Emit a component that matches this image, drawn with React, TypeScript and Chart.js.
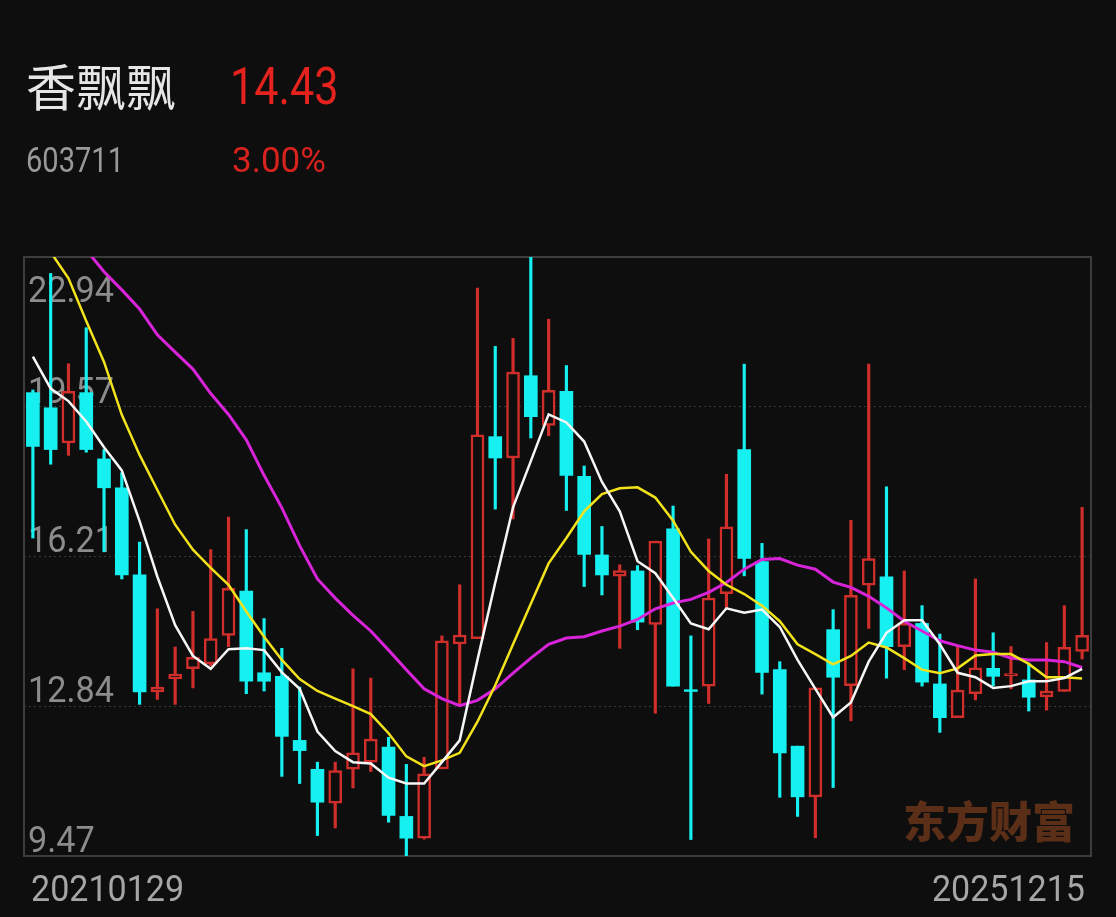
import React, { useEffect, useRef } from "react";
import { Chart, registerables } from "chart.js";

Chart.register(...registerables);

// ---- data (monthly candles, 2021-01 .. 2025-12) ----
const months = [
  "2021-01", "2021-02", "2021-03", "2021-04", "2021-05", "2021-06", "2021-07", "2021-08", "2021-09", "2021-10", "2021-11", "2021-12",
  "2022-01", "2022-02", "2022-03", "2022-04", "2022-05", "2022-06", "2022-07", "2022-08", "2022-09", "2022-10", "2022-11", "2022-12",
  "2023-01", "2023-02", "2023-03", "2023-04", "2023-05", "2023-06", "2023-07", "2023-08", "2023-09", "2023-10", "2023-11", "2023-12",
  "2024-01", "2024-02", "2024-03", "2024-04", "2024-05", "2024-06", "2024-07", "2024-08", "2024-09", "2024-10", "2024-11", "2024-12",
  "2025-01", "2025-02", "2025-03", "2025-04", "2025-05", "2025-06", "2025-07", "2025-08", "2025-09", "2025-10", "2025-11", "2025-12",
];

const openP = [
  19.89, 19.55, 18.76, 19.89, 18.40, 17.75, 15.79, 13.16, 13.45, 13.68, 13.79, 14.43,
  15.43, 13.59, 13.51, 12.07, 11.42, 10.66, 11.42, 11.58, 11.92, 10.36, 9.87, 11.43,
  14.24, 14.36, 18.90, 18.42, 20.27, 19.15, 19.92, 18.01, 16.24, 15.76, 15.88, 14.68,
  16.83, 13.21, 13.29, 15.37, 18.61, 16.09, 13.66, 11.94, 10.80, 14.56, 13.30, 15.56,
  15.75, 14.18, 14.70, 13.34, 12.58, 13.12, 13.69, 13.52, 13.43, 13.05, 13.17, 14.07,
];
const highP = [
  19.95, 22.57, 20.54, 21.35, 18.61, 18.09, 16.53, 15.03, 14.17, 14.97, 16.36, 17.09,
  16.81, 14.81, 14.14, 13.27, 11.58, 11.58, 13.68, 13.47, 12.14, 11.53, 11.69, 14.42,
  15.57, 22.24, 20.93, 21.11, 22.94, 21.54, 20.50, 18.24, 16.88, 16.02, 16.00, 16.55,
  17.34, 14.42, 16.60, 18.05, 20.53, 16.50, 13.84, 11.94, 13.25, 15.01, 17.02, 20.53,
  17.77, 15.88, 15.10, 14.46, 14.18, 15.70, 14.49, 14.18, 13.81, 14.27, 15.10, 17.31,
];
const lowP = [
  16.62, 18.28, 18.48, 18.55, 16.31, 15.70, 12.88, 12.99, 12.88, 13.25, 13.75, 14.18,
  13.12, 13.18, 11.26, 11.10, 9.93, 10.10, 11.00, 11.37, 10.23, 9.47, 9.85, 11.43,
  12.88, 14.36, 17.27, 17.05, 18.87, 18.92, 17.24, 15.53, 15.34, 14.14, 14.56, 12.68,
  13.29, 9.84, 12.90, 15.05, 15.77, 13.11, 10.79, 10.36, 9.88, 11.01, 12.51, 14.59,
  13.47, 13.66, 13.29, 12.25, 12.58, 12.98, 13.30, 13.23, 12.73, 12.75, 13.17, 13.90,
];
const closeP = [
  18.68, 18.61, 19.92, 18.61, 17.75, 15.79, 13.16, 13.27, 13.56, 13.94, 14.36, 15.49,
  13.40, 13.40, 12.16, 11.84, 10.68, 11.39, 11.79, 12.10, 10.38, 9.87, 11.32, 14.31,
  14.44, 18.94, 18.42, 20.35, 19.35, 19.94, 18.03, 16.25, 15.79, 15.89, 14.73, 16.55,
  13.29, 13.17, 15.27, 16.87, 16.16, 13.60, 11.79, 10.80, 13.25, 13.49, 15.33, 16.16,
  14.18, 14.70, 13.38, 12.58, 13.20, 13.70, 13.51, 13.57, 13.04, 13.18, 14.16, 14.43,
];

const ma5 = [
  20.70, 19.98, 19.70, 19.24, 18.66, 18.14, 17.00, 15.75, 14.66, 13.97, 13.68, 14.12,
  14.14, 14.10, 13.60, 13.23, 12.27, 11.83, 11.58, 11.55, 11.23, 11.10, 11.10, 11.58,
  12.07, 13.88, 15.62, 17.31, 18.35, 19.40, 19.22, 18.79, 17.88, 17.22, 16.10, 15.83,
  15.27, 14.70, 14.57, 15.04, 14.94, 15.01, 14.62, 13.88, 13.23, 12.59, 12.92, 13.84,
  14.49, 14.77, 14.77, 14.23, 13.59, 13.49, 13.25, 13.29, 13.40, 13.40, 13.47, 13.68,
];
const ma10 = [
  23.60, 23.05, 22.46, 21.50, 20.58, 19.39, 18.49, 17.70, 16.92, 16.36, 15.95, 15.57,
  14.97, 14.40, 13.88, 13.45, 13.18, 13.01, 12.84, 12.66, 12.23, 11.71, 11.49, 11.62,
  11.79, 12.49, 13.31, 14.23, 15.14, 16.05, 16.62, 17.22, 17.61, 17.74, 17.76, 17.53,
  17.01, 16.31, 15.88, 15.57, 15.36, 15.10, 14.75, 14.23, 14.01, 13.78, 13.97, 14.27,
  14.16, 13.92, 13.66, 13.58, 13.69, 13.98, 14.01, 14.01, 13.79, 13.49, 13.49, 13.46,
];
const ma20 = [
  24.60, 24.10, 23.60, 23.10, 22.61, 22.20, 21.77, 21.19, 20.80, 20.42, 19.87, 19.40,
  18.83, 18.03, 17.30, 16.45, 15.70, 15.27, 14.88, 14.53, 14.10, 13.66, 13.23, 13.01,
  12.85, 12.97, 13.23, 13.58, 13.92, 14.23, 14.37, 14.40, 14.53, 14.64, 14.79, 15.03,
  15.16, 15.24, 15.40, 15.62, 15.92, 16.14, 16.16, 16.01, 15.92, 15.63, 15.51, 15.31,
  15.05, 14.75, 14.53, 14.31, 14.20, 14.10, 14.05, 13.92, 13.88, 13.88, 13.84, 13.71,
];

const yTickValues = [22.94, 19.57, 16.21, 12.84, 9.47];
const yTickLabels = ["22.94", "19.57", "16.21", "12.84", "9.47"];
const xTickLabels = ["20210129", "20251215"];

const stockName = "香飘飘";
const stockCode = "603711";
const lastPrice = "14.43";
const changePct = "3.00%";
const watermark = "东方财富";

const BG = "#0e0e0e";
const UP = "#d02e2a";
const DOWN = "#16f0f0";

function drawText(
  ctx: CanvasRenderingContext2D,
  s: string,
  x: number,
  y: number,
  font: string,
  color: string,
  align: CanvasTextAlign,
  sx = 1
) {
  ctx.save();
  ctx.font = font;
  ctx.fillStyle = color;
  ctx.textAlign = align;
  ctx.textBaseline = "alphabetic";
  ctx.translate(x, y);
  ctx.scale(sx, 1);
  ctx.fillText(s, 0, 0);
  ctx.restore();
}

export default function App() {
  const ref = useRef<HTMLCanvasElement>(null);

  useEffect(() => {
    document.body.style.margin = "0";
    document.body.style.background = BG;
    const canvas = ref.current;
    if (!canvas) return;
    const isUp = closeP.map((c, i) => c >= openP[i]);

    const overlay = {
      id: "overlay",
      beforeDatasetsDraw(chart: any) {
        const { ctx, chartArea: a, scales } = chart;
        // watermark
        drawText(ctx, watermark, 903, 838, '900 43px "Noto Sans CJK SC"', "#5a2e17", "left");
        // frame
        ctx.save();
        ctx.strokeStyle = "#3c3c3c";
        ctx.lineWidth = 2;
        ctx.strokeRect(a.left, a.top, a.right - a.left, a.bottom - a.top);
        ctx.restore();
        // y labels
        yTickValues.forEach((v, i) => {
          const y = scales.y.getPixelForValue(v);
          const by = i === 0 ? y + 45 : y - 4;
          drawText(ctx, yTickLabels[i], a.left + 4, by, "36px Roboto", "#8c8c8c", "left", 0.95);
        });
        // x labels
        drawText(ctx, xTickLabels[0], 31, 901, "37px Roboto", "#a6a6a6", "left", 0.92);
        drawText(ctx, xTickLabels[1], 1085, 901, "37px Roboto", "#a6a6a6", "right", 0.92);
      },
    };

    const chart = new Chart(canvas, {
      type: "bar",
      data: {
        labels: months,
        datasets: [
          {
            type: "line",
            label: "MA5",
            data: ma5,
            borderColor: "#f6f6f6",
            borderWidth: 2.5,
            pointRadius: 0,
            tension: 0,
            order: 0,
          } as any,
          {
            type: "line",
            label: "MA10",
            data: ma10,
            borderColor: "#f2e21c",
            borderWidth: 2.5,
            pointRadius: 0,
            tension: 0,
            order: 0,
          } as any,
          {
            type: "line",
            label: "MA20",
            data: ma20,
            borderColor: "#d824d8",
            borderWidth: 3,
            pointRadius: 0,
            tension: 0,
            order: 0,
          } as any,
          {
            type: "bar",
            label: "body",
            data: openP.map((o, i) => [o, closeP[i]]),
            backgroundColor: isUp.map((u) => (u ? BG : DOWN)),
            borderColor: isUp.map((u) => (u ? UP : DOWN)),
            borderWidth: isUp.map((u) => (u ? 2.5 : 0)),
            borderSkipped: false,
            barThickness: 13,
            grouped: false,
            order: 1,
          } as any,
          {
            type: "bar",
            label: "wick",
            data: lowP.map((l, i) => [l, highP[i]]),
            backgroundColor: isUp.map((u) => (u ? UP : DOWN)),
            borderWidth: 0,
            barThickness: 2.5,
            grouped: false,
            order: 2,
          } as any,
        ],
      },
      options: {
        responsive: false,
        animation: false,
        devicePixelRatio: 1,
        events: [],
        layout: { padding: { left: 24, right: 25, top: 257, bottom: 61 } },
        plugins: { legend: { display: false }, tooltip: { enabled: false } },
        scales: {
          x: { type: "category", display: false, offset: true, grid: { display: false } },
          y: {
            type: "linear",
            min: 9.47,
            max: 22.94,
            position: "left",
            afterBuildTicks: (s: any) => {
              s.ticks = yTickValues.map((v) => ({ value: v }));
            },
            afterFit: (s: any) => {
              s.width = 0;
            },
            ticks: { display: false },
            grid: {
              drawTicks: false,
              lineWidth: 1,
              color: (c: any) =>
                c.tick && (c.tick.value === 22.94 || c.tick.value === 9.47) ? "rgba(0,0,0,0)" : "#3a3a3a",
            },
            border: { display: false, dash: [2, 3] },
          } as any,
        },
      } as any,
      plugins: [overlay],
    });
    return () => chart.destroy();
  }, []);

  return (
    <div style={{ position: "relative", width: 1116, height: 917, background: BG, overflow: "hidden" }}>
      <canvas ref={ref} width={1116} height={917} style={{ position: "absolute", left: 0, top: 0 }} />
      <div
        style={{
          position: "absolute",
          left: 26,
          top: 59,
          fontSize: 50,
          lineHeight: "50px",
          fontFamily: '"Noto Sans CJK SC", sans-serif',
          color: "#e6e6e6",
          whiteSpace: "nowrap",
        }}
      >
        {stockName}
      </div>
      <div
        style={{
          position: "absolute",
          left: 230,
          top: 61,
          fontSize: 52,
          lineHeight: "52px",
          fontFamily: "Roboto, sans-serif",
          color: "#e5221e",
          whiteSpace: "nowrap",
          transform: "scaleX(0.83)",
          transformOrigin: "left top",
        }}
      >
        {lastPrice}
      </div>
      <div
        style={{
          position: "absolute",
          left: 26,
          top: 143,
          fontSize: 35,
          lineHeight: "35px",
          fontFamily: "Roboto, sans-serif",
          color: "#999999",
          whiteSpace: "nowrap",
          transform: "scaleX(0.83)",
          transformOrigin: "left top",
        }}
      >
        {stockCode}
      </div>
      <div
        style={{
          position: "absolute",
          left: 232,
          top: 143,
          fontSize: 35,
          lineHeight: "35px",
          fontFamily: "Roboto, sans-serif",
          color: "#d8221e",
          whiteSpace: "nowrap",
        }}
      >
        {changePct}
      </div>
    </div>
  );
}
